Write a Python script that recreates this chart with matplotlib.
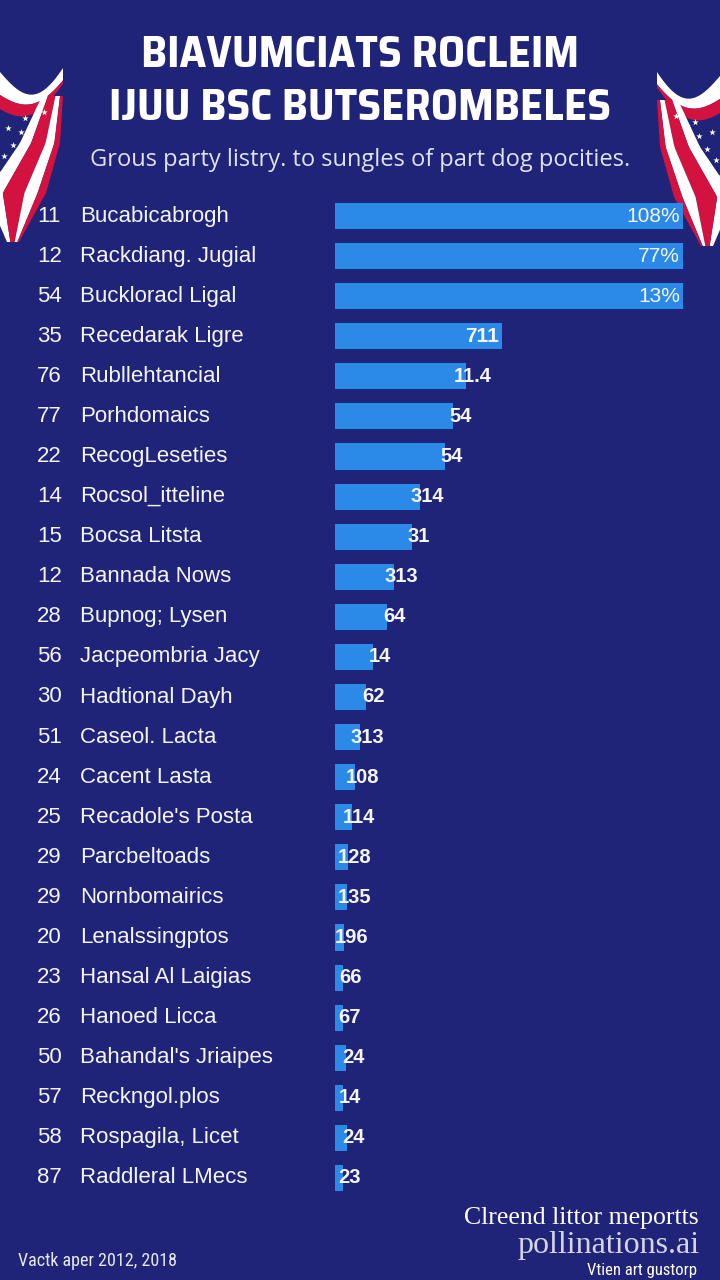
import numpy as np
import matplotlib.pyplot as plt
from matplotlib.transforms import blended_transform_factory

# colours
BG = '#1f2478'
BAR = '#2b8ae8'
TXT = '#f4f5fb'
RED = '#d3123f'

# data (bar length in % of the longest bar)
ranks = ['11', '12', '54', '35', '76', '77', '22', '14', '15', '12', '28', '56', '30',
         '51', '24', '25', '29', '29', '20', '23', '26', '50', '57', '58', '87']
names = ['Bucabicabrogh', 'Rackdiang. Jugial', 'Buckloracl Ligal', 'Recedarak Ligre',
         'Rubllehtancial', 'Porhdomaics', 'RecogLeseties', 'Rocsol_itteline',
         'Bocsa Litsta', 'Bannada Nows', 'Bupnog; Lysen', 'Jacpeombria Jacy',
         'Hadtional Dayh', 'Caseol. Lacta', 'Cacent Lasta', "Recadole's Posta",
         'Parcbeltoads', 'Nornbomairics', 'Lenalssingptos', 'Hansal Al Laigias',
         'Hanoed Licca', "Bahandal's Jriaipes", 'Reckngol.plos', 'Rospagila, Licet',
         'Raddleral LMecs']
values = [100, 100, 100, 48, 37.5, 34, 31.5, 24.5, 22, 17, 15, 11, 9,
          7.2, 5.8, 4.9, 3.6, 3.5, 2.7, 2.4, 2.3, 3.2, 2.3, 3.4, 2.3]
value_labels = ['108%', '77%', '13%', '711', '11.4', '54', '54', '314', '31', '313',
                '64', '14', '62', '313', '108', '114', '128', '135', '196', '66',
                '67', '24', '14', '24', '23']

SANS = ['Liberation Sans', 'DejaVu Sans']
SUB = ['Open Sans', 'DejaVu Sans']
NARROW = ['Roboto Condensed', 'DejaVu Sans']
SERIF = ['Liberation Serif', 'DejaVu Serif']
TITLE = ['Saira SemiCondensed', 'Saira Condensed', 'DejaVu Sans']

fig = plt.figure(figsize=(7.2, 12.8), dpi=100, facecolor=BG)

# decoration layer in pixel units (flag drapes in the top corners)
deco = fig.add_axes([0, 0, 1, 1])
deco.set_xlim(0, 720)
deco.set_ylim(1280, 0)
deco.axis('off')


def drape(flip):
    def fx(x):
        x = np.asarray(x, dtype=float)
        return 720 - x if flip else x
    dy = 4 if flip else 0
    # crescent on top
    xs = np.linspace(0, 63, 30)
    top = 72 + 26 * np.sin(np.pi * xs / 70) - 12 * (xs / 63) ** 2
    mid = 95 + 14 * np.sin(np.pi * xs / 70) - 19 * (xs / 63) ** 2
    low = 109 + 12 * np.sin(np.pi * xs / 64) - 26 * (xs / 63) ** 2
    deco.fill(np.r_[fx(xs), fx(xs[::-1])], np.r_[top, mid[::-1]] + dy, color='white', lw=0)
    deco.fill(np.r_[fx(xs), fx(xs[::-1])], np.r_[mid, low[::-1]] + dy, color=RED, lw=0)
    # hanging stripes
    yy = np.linspace(96, 242, 40)
    L = np.interp(yy, [96, 143, 193, 242], [42, 20, -14, 7])
    R = np.interp(yy, [96, 143, 193, 242], [63, 60, 46, 19])
    cuts = [0, 0.28, 0.64, 0.86, 1.0]
    cols = ['white', RED, 'white', RED]
    for k in range(4):
        a = L + (R - L) * cuts[k]
        b = L + (R - L) * cuts[k + 1]
        deco.fill(np.r_[fx(a), fx(b[::-1])], np.r_[yy, yy[::-1]] + dy, color=cols[k], lw=0)
    sx = [44, 33, 8, 21, 13, 28, 4, 17, 3, 25]
    sy = [112, 122, 128, 132, 145, 141, 156, 158, 172, 118]
    deco.scatter(fx(sx), np.array(sy) + dy, marker='*', s=24, color='white', lw=0)


drape(False)
drape(True)

# bar chart
n = len(values)
ypos = np.arange(n)
ax = fig.add_axes([335 / 720, 1 - 1198 / 1280, 348 / 720, 1002 / 1280])
ax.set_facecolor('none')
ax.barh(ypos, values, height=0.65, color=BAR)
ax.set_xlim(0, 100)
ax.set_ylim(n - 0.5, -0.5)
ax.axis('off')

lbl = blended_transform_factory(fig.transFigure, ax.transData)
for i in range(n):
    ax.text(37 / 720, i, ranks[i], transform=lbl, ha='left', va='center',
            fontsize=16, color=TXT, family=SANS)
    ax.text(80 / 720, i, names[i], transform=lbl, ha='left', va='center',
            fontsize=16, color=TXT, family=SANS)
    if values[i] >= 40:
        ax.annotate(value_labels[i], (values[i], i), xytext=(-2, 0), textcoords='offset points',
                    ha='right', va='center', fontsize=15, color=TXT,
                    fontweight='bold' if i == 3 else 'normal', family=SANS)
    else:
        ax.annotate(value_labels[i], (values[i], i), xytext=(5, 0), textcoords='offset points',
                    ha='center', va='center', fontsize=14.5, color=TXT, fontweight='bold',
                    family=SANS)

# titles
fig.text(0.5, 1 - 55 / 1280, 'BIAVUMCIATS ROCLEIM', ha='center', va='center',
         fontsize=32, fontweight='bold', color='white', family=TITLE)
fig.text(0.5, 1 - 108 / 1280, 'IJUU BSC BUTSEROMBELES', ha='center', va='center',
         fontsize=32, fontweight='bold', color='white', family=TITLE)
fig.text(0.5, 1 - 160 / 1280, 'Grous party listry. to sungles of part dog pocities.',
         ha='center', va='center', fontsize=17, color='#dfe2f2', family=SUB)

# footer
fig.text(18 / 720, 1 - 1261 / 1280, 'Vactk aper 2012, 2018', ha='left', va='center',
         fontsize=13, color='#e6e8f4', family=NARROW)
fig.text(699 / 720, 1 - 1218 / 1280, 'Clreend littor meportts', ha='right', va='center',
         fontsize=18.5, color='white', family=SERIF)
fig.text(700 / 720, 1 - 1246 / 1280, 'pollinations.ai', ha='right', va='center',
         fontsize=23, color='#e8e9f2', alpha=0.9, family=SERIF)
fig.text(697 / 720, 1 - 1271 / 1280, 'Vtien art gustorp', ha='right', va='center',
         fontsize=12, color='white', family=NARROW)

fig.savefig('out.png', dpi=100, facecolor=fig.get_facecolor())
